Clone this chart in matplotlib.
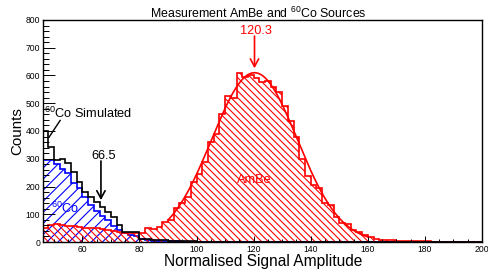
import matplotlib
matplotlib.use("Agg")
import matplotlib.pyplot as plt
from matplotlib.ticker import MultipleLocator
import numpy as np

plt.rcParams['font.family'] = ['Liberation Sans', 'DejaVu Sans']
plt.rcParams['mathtext.fontset'] = 'custom'
plt.rcParams['mathtext.rm'] = 'Liberation Sans'
plt.rcParams['mathtext.it'] = 'Liberation Sans:italic'
plt.rcParams['hatch.linewidth'] = 0.8

# Histogram binning (2 units per bin, 46 -> 200)
bin_edges = np.arange(46, 202, 2)

# AmBe measurement (red)
ambe_counts = [
    50, 63, 64, 63, 58, 56, 54, 52, 50, 49,          # 46-66
    47, 44, 40, 37, 34, 33, 33, 34, 52, 47,          # 66-86
    55, 73, 81, 121, 139, 162, 216, 246, 288, 359,   # 86-106
    390, 461, 527, 520, 610, 595, 600, 590, 577, 580,  # 106-126
    557, 539, 491, 435, 380, 300, 237, 204, 195, 139,  # 126-146
    133, 91, 67, 65, 43, 35, 25, 18, 12, 9,          # 146-166
    7, 6, 5, 4, 4, 3, 3, 2, 1, 0,                    # 166-186
    0, 0, 0, 0, 0, 0, 0,                             # 186-200
]

# 60Co measurement (blue)
co_counts = [
    294, 294, 282, 262, 248, 212, 196, 162, 133, 111,
    93, 81, 57, 43, 31, 24, 22, 10, 7, 5,
    4, 3, 2, 2, 1, 1, 0, 0, 0, 0,
    0, 0, 0, 0, 0, 0, 0, 0, 0, 0,
    0, 0, 0, 0, 0, 0, 0, 0, 0, 0,
    0, 0, 0, 0, 0, 0, 0, 0, 0, 0,
    0, 0, 0, 0, 0, 0, 0, 0, 0, 0,
    0, 0, 0, 0, 0, 0, 0,
]

# 60Co simulation (black outline)
co_sim_counts = [
    400, 342, 296, 298, 286, 252, 216, 180, 162, 144,
    126, 109, 91, 60, 37, 37, 37, 12, 10, 9,
    7, 6, 5, 4, 3, 3, 2, 1, 1, 0,
    0, 0, 0, 0, 0, 0, 0, 0, 0, 0,
    0, 0, 0, 0, 0, 0, 0, 0, 0, 0,
    0, 0, 0, 0, 0, 0, 0, 0, 0, 0,
    0, 0, 0, 0, 0, 0, 0, 0, 0, 0,
    0, 0, 0, 0, 0, 0, 0,
]

# Gaussian fit to the AmBe peak
fit_mean = 120.3
fit_sigma = 15.0
fit_amp = 610.0
fit_range = (90, 160)

sim_peak = 66.5

fig = plt.figure(figsize=(4.88, 2.69), dpi=100)
ax = fig.add_axes([43 / 488, 1 - 242 / 269, (482 - 43) / 488, (242 - 20) / 269])

ax.stairs(co_counts, bin_edges, fill=True, facecolor='none', edgecolor='#0000ff',
          hatch='///', lw=1.2)
ax.stairs(ambe_counts, bin_edges, fill=True, facecolor='none', edgecolor='#ff0000',
          hatch='\\\\\\\\\\', lw=1.2)
ax.stairs(co_sim_counts, bin_edges, fill=False, edgecolor='black', lw=1.2)

xf = np.linspace(fit_range[0], fit_range[1], 300)
ax.plot(xf, fit_amp * np.exp(-(xf - fit_mean) ** 2 / (2 * fit_sigma ** 2)),
        color='#ff0000', lw=1.2)

ax.set_xlim(46.2, 200)
ax.set_ylim(0, 800)

ax.xaxis.set_major_locator(MultipleLocator(20))
ax.xaxis.set_minor_locator(MultipleLocator(5))
ax.yaxis.set_major_locator(MultipleLocator(100))
ax.yaxis.set_minor_locator(MultipleLocator(20))
ax.tick_params(which='both', direction='in', width=0.7, labelsize=6.2, pad=2)
ax.tick_params(axis='y', which='major', length=8.6)
ax.tick_params(axis='y', which='minor', length=4.3)
ax.tick_params(axis='x', which='major', length=4.5)
ax.tick_params(axis='x', which='minor', length=2.2)
for s in ax.spines.values():
    s.set_linewidth(1.0)

# annotations
fs = 9.2
arrow = dict(arrowstyle='->, head_length=0.55, head_width=0.3', lw=1.2,
             shrinkA=0, shrinkB=0)
ax.annotate('', xy=(fit_mean, 626), xytext=(fit_mean, 742),
            arrowprops=dict(arrow, color='#ff0000'))
ax.text(120.8, 750, '120.3', color='#ff0000', fontsize=fs, ha='center', va='baseline')

ax.annotate('', xy=(sim_peak, 151), xytext=(sim_peak, 292),
            arrowprops=dict(arrow, color='black'))
ax.text(67.3, 299, '66.5', color='black', fontsize=fs, ha='center', va='baseline')

ax.text(46.7, 447, r'$^{60}$Co Simulated', color='black', fontsize=fs,
        ha='left', va='baseline')
ax.plot([52.2, 48.4], [438, 379], color='black', lw=1.0)

ax.text(120.2, 213, 'AmBe', color='#ff0000', fontsize=fs, ha='center', va='baseline')
ax.text(48.9, 104.5, r'$^{60}$Co', color='#0000ff', fontsize=fs, ha='left', va='baseline')

fig.text(258 / 488, 1 - 17.5 / 269, r'Measurement AmBe and $^{60}$Co Sources',
         fontsize=8.9, ha='center', va='baseline')
fig.text(17.5 / 488, 1 - 131 / 269, 'Counts', fontsize=10.9, rotation=90,
         ha='center', va='center')
fig.text(263 / 488, 1 - 266 / 269, 'Normalised Signal Amplitude', fontsize=11.2,
         ha='center', va='baseline')

fig.savefig('out.png', dpi=100)
